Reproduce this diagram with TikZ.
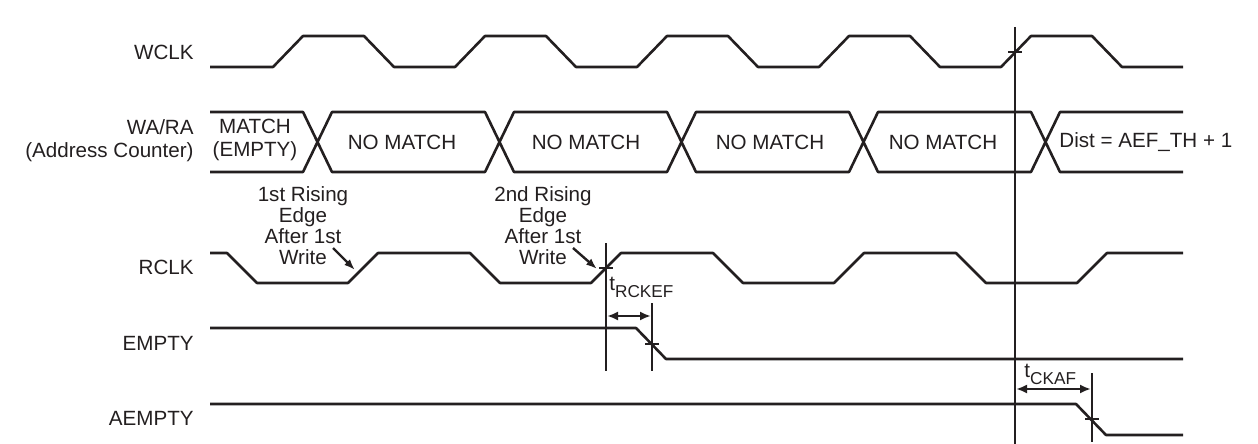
\documentclass[tikz,border=0pt]{standalone}
\usepackage{fontspec}
\setmainfont{Liberation Sans}
\usetikzlibrary{arrows.meta}
\definecolor{ink}{HTML}{231F20}
\tikzset{
  wave/.style={draw=ink, line width=1.3pt, line join=round},
  marker/.style={draw=ink, line width=1.4pt},
  dimarrow/.style={draw=ink, line width=1.2pt, {Latex[length=5.5pt,width=4.5pt]}-{Latex[length=5.5pt,width=4.5pt]}},
  notearrow/.style={draw=ink, line width=1.2pt, -{Latex[length=5.5pt,width=4pt]}},
  signame/.style={anchor=east, inner sep=0pt, align=right, text=ink, font=\fontsize{10.3}{11.5}\selectfont},
  bustext/.style={inner sep=0pt, align=center, text=ink, font=\fontsize{10.3}{11.5}\selectfont},
  note/.style={inner sep=0pt, align=center, text=ink, font=\fontsize{10.3}{10.5}\selectfont},
}
\newcommand{\timingsub}[1]{t\raisebox{-3.5pt}{\fontsize{8.6}{9}\selectfont #1}}

\begin{document}
\begin{tikzpicture}[x=0.5pt, y=-0.5pt]
  \useasboundingbox (0,0) rectangle (1258,444);

  % Signal names
  \node[signame] (wclk)   at (194,52)  {WCLK};
  \node[signame] (wara)   at (194,141) {WA/RA\\(Address Counter)};
  \node[signame] (rclk)   at (194,267) {RCLK};
  \node[signame] (empty)  at (194,343) {EMPTY};
  \node[signame] (aempty) at (194,418) {AEMPTY};

  % WCLK
  \draw[wave] (210,67) foreach \k in {0,...,4} {
      -- ({273+182*\k},67) -- ({303+182*\k},36) -- ({364+182*\k},36) -- ({394+182*\k},67)
    } -- (1183,67);

  % WA/RA bus
  \draw[wave] (210,112) foreach \k in {0,...,4} {
      -- ({303+182*\k},112) -- ({317.5+182*\k},142) -- ({332+182*\k},112)
    } -- (1183,112);
  \draw[wave] (210,172) foreach \k in {0,...,4} {
      -- ({303+182*\k},172) -- ({317.5+182*\k},142) -- ({332+182*\k},172)
    } -- (1183,172);
  \node[bustext] (match) at (255,140) {MATCH\\(EMPTY)};
  \node[bustext] (nm1) at (402,142) {NO MATCH};
  \node[bustext] (nm2) at (586,142) {NO MATCH};
  \node[bustext] (nm3) at (770,142) {NO MATCH};
  \node[bustext] (nm4) at (943,142) {NO MATCH};
  \node[bustext, anchor=west] (dist) at (1059,142) {Dist = AEF\_TH + 1};

  % RCLK
  \draw[wave] (210,253) foreach \k in {0,...,3} {
      -- ({227+243*\k},253) -- ({257+243*\k},283) -- ({348+243*\k},283) -- ({378+243*\k},253)
    } -- (1183,253);

  % EMPTY, AEMPTY
  \draw[wave] (210,328) -- (636,328) -- (666,359) -- (1183,359);
  \draw[wave] (210,404) -- (1076,404) -- (1106,435) -- (1183,435);

  % Rising edge notes
  \node[note] (note1) at (303,226) {1st Rising\\Edge\\After 1st\\Write};
  \node[note] (note2) at (543,226) {2nd Rising\\Edge\\After 1st\\Write};
  \coordinate (n1from) at (333,248);
  \coordinate (n1to)   at (355,270);
  \coordinate (n2from) at (573,248);
  \coordinate (n2to)   at (597,269);
  \draw[notearrow] (n1from) -- (n1to);
  \draw[notearrow] (n2from) -- (n2to);

  % Timing markers
  \coordinate (mw1) at (1015,27);  \coordinate (mw2) at (1015,444);
  \coordinate (mr1) at (606,243);  \coordinate (mr2) at (606,371);
  \coordinate (me1) at (652,303);  \coordinate (me2) at (652,371);
  \coordinate (ma1) at (1092,373); \coordinate (ma2) at (1092,442);
  \draw[marker] (mw1) -- (mw2);
  \draw[marker] (mr1) -- (mr2);
  \draw[marker] (me1) -- (me2);
  \draw[marker] (ma1) -- (ma2);
  \draw[marker] (1008,52) -- (1022,52);
  \draw[marker] (599,268) -- (613,268);
  \draw[marker] (645,344) -- (659,344);
  \draw[marker] (1085,419) -- (1099,419);

  % Delays
  \coordinate (d1a) at (607,316);  \coordinate (d1b) at (651,316);
  \coordinate (d2a) at (1016,389); \coordinate (d2b) at (1091,389);
  \draw[dimarrow] (d1a) -- (d1b);
  \draw[dimarrow] (d2a) -- (d2b);
  \node[note, anchor=base west] (trckef) at (609,290) {\timingsub{RCKEF}};
  \node[note, anchor=base west] (tckaf)  at (1024,377) {\timingsub{CKAF}};
\end{tikzpicture}
\end{document}
